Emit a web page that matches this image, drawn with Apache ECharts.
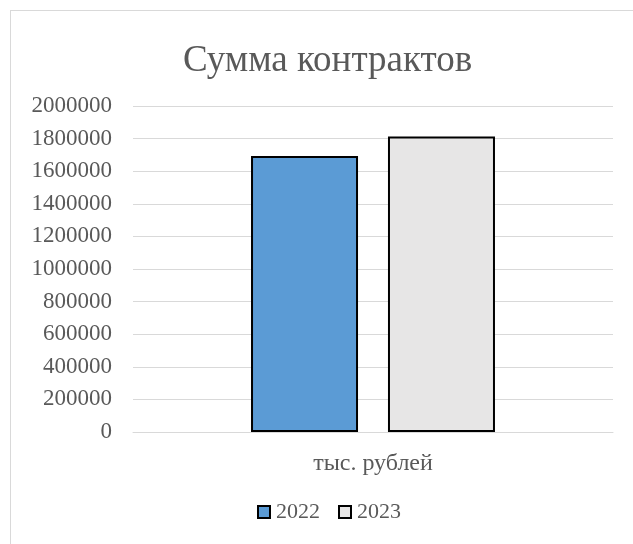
<!DOCTYPE html>
<html>
<head>
<meta charset="utf-8">
<script src="https://cdn.jsdelivr.net/npm/echarts@6/dist/echarts.min.js"></script>
<style>
html,body{margin:0;padding:0;background:#fff;overflow:hidden;}
#frame{position:absolute;left:10px;top:10px;width:700px;height:700px;border:1px solid #d9d9d9;box-sizing:border-box;}
#main{position:absolute;left:0;top:0;width:633px;height:544px;}
</style>
</head>
<body>
<div id="frame"></div>
<div id="main"></div>
<script>
// данные
var categories = ['тыс. рублей'];
var seriesNames = ['2022', '2023'];
var values2022 = [1693000];
var values2023 = [1813000];
var yTicks = [0, 2000000, 200000]; // min, max, interval

var chart = echarts.init(document.getElementById('main'));
var font = '"Liberation Serif", "Times New Roman", serif';

var option = {
	animation: false,
	title: {
		text: 'Сумма контрактов',
		left: 178,
		top: 38,
		textStyle: {fontFamily: font, fontSize: 37, fontWeight: 'normal', color: '#595959'}
	},
	legend: {
		bottom: 16,
		left: 252,
		icon: 'rect',
		itemWidth: 12,
		itemHeight: 12,
		itemGap: 18,
		textStyle: {fontFamily: font, fontSize: 22, color: '#595959', padding: [0, 0, 0, 1]},
		data: seriesNames
	},
	grid: {left: 133, right: 20, top: 106, bottom: 112, containLabel: false},
	xAxis: {
		type: 'category',
		data: categories,
		axisTick: {show: false},
		axisLine: {lineStyle: {color: '#d9d9d9'}},
		axisLabel: {fontFamily: font, fontSize: 24, color: '#595959', margin: 20}
	},
	yAxis: {
		type: 'value',
		min: yTicks[0],
		max: yTicks[1],
		interval: yTicks[2],
		axisLine: {show: false},
		axisTick: {show: false},
		splitLine: {lineStyle: {color: '#d9d9d9', width: 1}},
		axisLabel: {
			fontFamily: font, fontSize: 23, color: '#595959', margin: 21,
			formatter: function(v){ return String(v); }
		}
	},
	series: [
		{
			name: seriesNames[0],
			type: 'bar',
			data: values2022,
			barWidth: 107,
			barGap: '28%',
			itemStyle: {color: '#5b9bd5', borderColor: '#000', borderWidth: 2}
		},
		{
			name: seriesNames[1],
			type: 'bar',
			data: values2023,
			barWidth: 107,
			barGap: '28%',
			itemStyle: {color: '#e7e6e6', borderColor: '#000', borderWidth: 2}
		}
	]
};
chart.setOption(option);
</script>
</body>
</html>
